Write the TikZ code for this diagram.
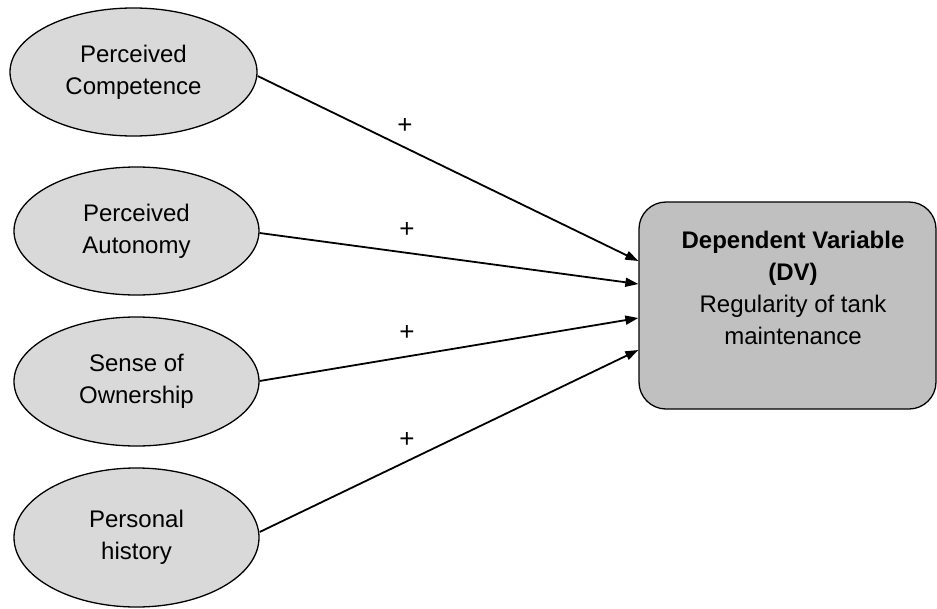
\documentclass[tikz,border=0pt]{standalone}
\usepackage{fontspec}
\setmainfont{Liberation Sans}
\usetikzlibrary{shapes.geometric,arrows.meta}
\definecolor{ellfill}{HTML}{D9D9D9}
\definecolor{boxfill}{HTML}{C0C0C0}
\begin{document}
\begin{tikzpicture}[x=1pt,y=-1pt,
  construct/.style={ellipse,draw=black,line width=1.3pt,fill=ellfill,inner sep=0pt,
    align=center,font=\fontsize{24}{32}\selectfont},
  dvbox/.style={draw=black,line width=1.3pt,fill=boxfill,rounded corners=27pt,inner sep=0pt},
  dvtext/.style={align=center,font=\fontsize{24}{32}\selectfont,inner sep=0pt},
  link/.style={line width=1.8pt,-{Triangle[length=13pt,width=9pt]}},
  sign/.style={font=\fontsize{26}{30}\selectfont,inner sep=0pt}]
\useasboundingbox (0,0) rectangle (937,608);
\node[construct,minimum width=247pt,minimum height=128pt] (e1) at (133.5,72) {Perceived\\Competence};
\node[construct,minimum width=245pt,minimum height=128pt] (e2) at (136.5,231) {Perceived\\Autonomy};
\node[construct,minimum width=245pt,minimum height=129pt] (e3) at (136.5,381.5) {Sense of\\Ownership};
\node[construct,minimum width=245pt,minimum height=139pt] (e4) at (136.5,537.5) {Personal\\history};
\node[dvbox,minimum width=297pt,minimum height=207pt] (dv) at (787.5,305.5) {};
\node[dvtext] (dvt) at (793,288) {\textbf{Dependent Variable}\\\textbf{(DV)}\\Regularity of tank\\maintenance};
\coordinate (t1) at (dv.west |- 0,261);
\coordinate (t2) at (dv.west |- 0,284);
\coordinate (t3) at (dv.west |- 0,318);
\coordinate (t4) at (dv.west |- 0,350);
\coordinate (s1) at (e1.east |- 0,76);
\coordinate (s2) at (e2.east |- 0,233);
\coordinate (s3) at (e3.east |- 0,381);
\coordinate (s4) at (e4.east |- 0,532);
\draw[link] (s1) -- (t1);
\draw[link] (s2) -- (t2);
\draw[link] (s3) -- (t3);
\draw[link] (s4) -- (t4);
\node[sign] (p1) at (405,126) {+};
\node[sign] (p2) at (407,230) {+};
\node[sign] (p3) at (407,333) {+};
\node[sign] (p4) at (407,440) {+};
\end{tikzpicture}
\end{document}
